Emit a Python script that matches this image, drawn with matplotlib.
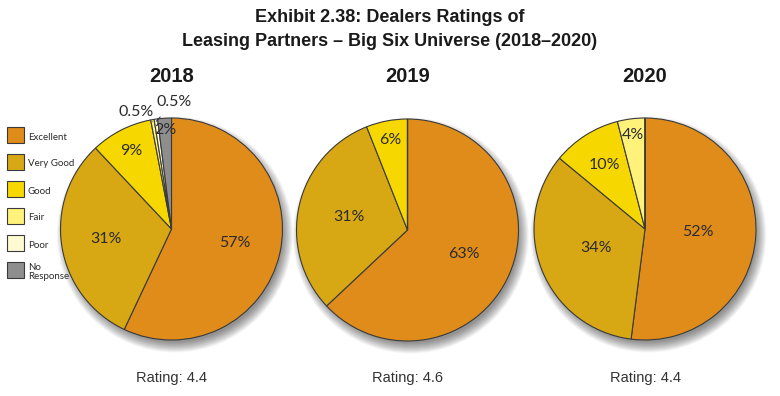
import matplotlib
matplotlib.use("Agg")
import matplotlib.pyplot as plt
from matplotlib.patches import Circle, Rectangle
import numpy as np

# ---------------- data ----------------
categories = ["Excellent", "Very Good", "Good", "Fair", "Poor", "No\nResponse"]
years = ["2018", "2019", "2020"]
values_2018 = [57, 31, 9, 0.5, 0.5, 2]
values_2019 = [63, 31, 6, 0, 0, 0]
values_2020 = [52, 34, 10, 4, 0, 0]
ratings = ["4.4", "4.6", "4.4"]
title_lines = ["Exhibit 2.38: Dealers Ratings of",
               "Leasing Partners \u2013 Big Six Universe (2018\u20132020)"]

# ---------------- style ----------------
colors = ["#DF8C1B", "#D8A714", "#F6D800", "#FFF27A", "#FFFAD2", "#8E8E8E"]
W, H = 780, 396
centers = [(171.5, 229), (407.5, 230), (645, 229)]
R = 111.0
# label distances (fraction of radius) per slice, per pie
label_dist = [
    [0.58, 0.60, 0.79, None, None, 0.89],
    [0.55, 0.54, 0.83, None, None, None],
    [0.48, 0.47, 0.68, 0.85, None, None],
]
# outside labels for tiny slices: (slice index, text x, text y) in px
outside = {0: [(3, 136, 112), (4, 174, 102)]}
LBL_FAMILY = ["Lato", "DejaVu Sans"]

fig = plt.figure(figsize=(W / 100, H / 100), dpi=100)
fig.patch.set_facecolor("white")

def px_to_fig(x, y):
    return x / W, 1 - y / H

pct_font = dict(family=LBL_FAMILY, fontsize=11.5, color="#2b2b2b")
all_values = [values_2018, values_2019, values_2020]
L = 1.25
for k, vals in enumerate(all_values):
    cx, cy = centers[k]
    size = 2 * L * R
    ax = fig.add_axes([(cx - L * R) / W, (H - cy - L * R) / H, size / W, size / H])
    ax.set_xlim(-L, L)
    ax.set_ylim(-L, L)
    ax.set_aspect("equal")
    ax.axis("off")
    # soft drop shadow (down-right)
    for i in range(18):
        rr = 0.97 + 0.0055 * i
        ax.add_patch(Circle((0.03, -0.05), rr, color="black", alpha=0.028, lw=0, zorder=0))
    wedges, _ = ax.pie(vals, colors=colors, startangle=90, counterclock=False,
                       radius=1.0, center=(0, 0),
                       wedgeprops=dict(edgecolor="#3a3a3a", linewidth=0.8))
    for w in wedges:
        w.set_zorder(2)
    total = sum(vals)
    start = 90.0
    for i, v in enumerate(vals):
        if v <= 0:
            continue
        ang = v / total * 360
        mid = np.deg2rad(start - ang / 2)
        start -= ang
        d = label_dist[k][i]
        if d is None:
            continue
        ax.text(d * np.cos(mid), d * np.sin(mid), f"{v:g}%", ha="center", va="center",
                zorder=5, **pct_font)
    # outside labels for small slices
    if k in outside:
        cum = np.cumsum([0] + list(vals))
        for (i, tx, ty) in outside[k]:
            mid_deg = 90 - (cum[i] + vals[i] / 2) / total * 360
            m = np.deg2rad(mid_deg)
            ex, ey = 0.98 * np.cos(m), 0.98 * np.sin(m)
            txd = (tx - cx) / R
            tyd = (cy - ty) / R
            ax.annotate(f"{vals[i]:g}%", xy=(ex, ey), xytext=(txd, tyd),
                        ha="center", va="center", zorder=6,
                        arrowprops=dict(arrowstyle="-", color="#333333", lw=0.7,
                                        shrinkA=5, shrinkB=0),
                        **pct_font)
    # year heading
    fig.text(*px_to_fig(cx, 77), years[k], ha="center", va="center",
             family="Liberation Sans", fontweight="bold", fontsize=14.5, color="#1a1a1a")
    fig.text(*px_to_fig(cx, 378), f"Rating: {ratings[k]}", ha="center", va="center",
             family="Liberation Sans", fontsize=10.5, color="#333333")

# title
fig.text(*px_to_fig(390, 18), title_lines[0], ha="center", va="center",
         family="Liberation Sans", fontweight="bold", fontsize=13, color="#1a1a1a")
fig.text(*px_to_fig(390, 42), title_lines[1], ha="center", va="center",
         family="Liberation Sans", fontweight="bold", fontsize=13, color="#1a1a1a")

# legend (overlay axes in pixel coordinates)
lax = fig.add_axes([0, 0, 1, 1], zorder=10)
lax.set_xlim(0, W)
lax.set_ylim(H, 0)
lax.axis("off")
lax.patch.set_alpha(0)
y0, step = 127, 27
for i, cat in enumerate(categories):
    y = y0 + i * step
    lax.add_patch(Rectangle((7, y), 17, 16, facecolor=colors[i], edgecolor="#3a3a3a", lw=0.8))
    lax.text(28, y + 10, cat, ha="left", va="center", family=LBL_FAMILY,
             fontsize=7, color="#2b2b2b", linespacing=0.9)

fig.savefig("out.png", dpi=100, facecolor="white")
